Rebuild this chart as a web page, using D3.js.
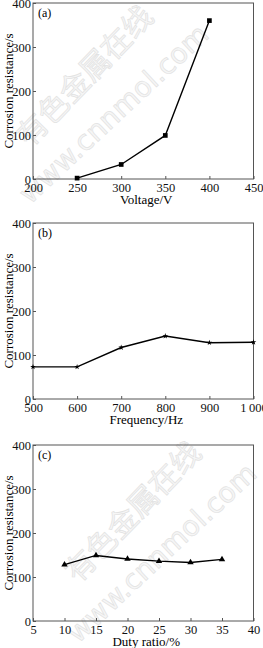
<!DOCTYPE html>
<html><head><meta charset="utf-8">
<script src="https://cdn.jsdelivr.net/npm/d3@7"></script>
<style>body{margin:0;background:#fff}svg{display:block}</style>
</head><body>
<script>
const voltage = [250, 300, 350, 400];
const resistA = [2, 33, 99, 360];
const frequency = [500, 600, 700, 800, 900, 1000];
const resistB = [73, 73, 117, 143, 128, 129];
const duty = [10, 15, 20, 25, 30, 35];
const resistC = [128, 149, 141, 136, 133, 140];
const xTicksA = [200, 250, 300, 350, 400, 450];
const xTicksB = [500, 600, 700, 800, 900, 1000];
const xTicksC = [5, 10, 15, 20, 25, 30, 35, 40];
const yTicks = [0, 100, 200, 300, 400];

const svg = d3.select("body").append("svg").attr("width", 263).attr("height", 648);
const font = "'Liberation Serif','Times New Roman',serif";

function panel(o) {
  const x = d3.scaleLinear().domain(o.xdom).range([33, 253.5]);
  const y = d3.scaleLinear().domain([0, 400]).range([o.bottom, o.bottom - 176]);
  const g = svg.append("g");
  if (o.wm) {
    const w = g.append("g").attr("fill", "#f6f6f6").attr("stroke", "#e2e2e2").attr("stroke-width", 0.7);
    w.append("text").attr("transform", `translate(${o.wm[0]},${o.wm[1]}) rotate(-46)`)
      .attr("font-family", "'Noto Sans CJK SC'").attr("font-size", 30).text("有色金属在线");
    w.append("text").attr("transform", `translate(${o.wm[2]},${o.wm[3]}) rotate(-43)`)
      .attr("font-family", "'DejaVu Sans'").attr("font-size", 28).text("www.cnnmol.com");
  }
  g.append("rect").attr("x", x.range()[0]).attr("y", y(400)).attr("width", x.range()[1] - x.range()[0])
    .attr("height", y(0) - y(400)).attr("fill", "none").attr("stroke", "#555").attr("stroke-width", 1);
  const ax = g.append("g").attr("transform", `translate(0,${y(0)})`)
    .call(d3.axisBottom(x).tickValues(o.xticks).tickSize(-3).tickPadding(4).tickFormat(o.xfmt || (d => d)));
  const ay = g.append("g").attr("transform", `translate(${x.range()[0]},0)`)
    .call(d3.axisLeft(y).tickValues(yTicks).tickSize(-3).tickPadding(2));
  [ax, ay].forEach(a => {
    a.select(".domain").remove();
    a.selectAll("line").attr("stroke", "#555");
    a.selectAll("text").attr("font-family", font).attr("font-size", 12.5).attr("fill", "#111");
  });
  ay.selectAll("text").attr("dy", "0.35em");
  g.append("text").attr("x", 38).attr("y", y(400) + 14).attr("font-family", font).attr("font-size", 12).text(o.label);
  g.append("text").attr("transform", `translate(13,${y(200)}) rotate(-90)`).attr("text-anchor", "middle")
    .attr("font-family", font).attr("font-size", 13).text("Corrosion resistance/s");
  g.append("text").attr("x", (x.range()[0] + x.range()[1]) / 2 + 3).attr("y", y(0) + 25).attr("text-anchor", "middle")
    .attr("font-family", font).attr("font-size", 13).text(o.xtitle);
  const pts = o.xs.map((d, i) => [x(d), y(o.ys[i])]);
  g.append("path").attr("d", d3.line()(pts)).attr("fill", "none").attr("stroke", "#000").attr("stroke-width", 1.4);
  g.selectAll(".m").data(pts).join("path")
    .attr("transform", d => `translate(${d[0]},${d[1]})`)
    .attr("d", d3.symbol().type(o.sym).size(o.size)).attr("fill", "#000");
}

panel({xdom: [200, 450], xticks: xTicksA, bottom: 179, xs: voltage, ys: resistA, label: "(a)", xtitle: "Voltage/V",
  sym: d3.symbolSquare, size: 22, wm: [30, 148, 30, 205]});
panel({xdom: [500, 1000], xticks: xTicksB, bottom: 399, xs: frequency, ys: resistB, label: "(b)", xtitle: "Frequency/Hz",
  sym: d3.symbolStar, size: 10, xfmt: d => d === 1000 ? "1\u2009000" : d});
panel({xdom: [5, 40], xticks: xTicksC, bottom: 621, xs: duty, ys: resistC, label: "(c)", xtitle: "Duty ratio/%",
  sym: d3.symbolTriangle, size: 18, wm: [78, 584, 78, 644]});
</script>
</body></html>
